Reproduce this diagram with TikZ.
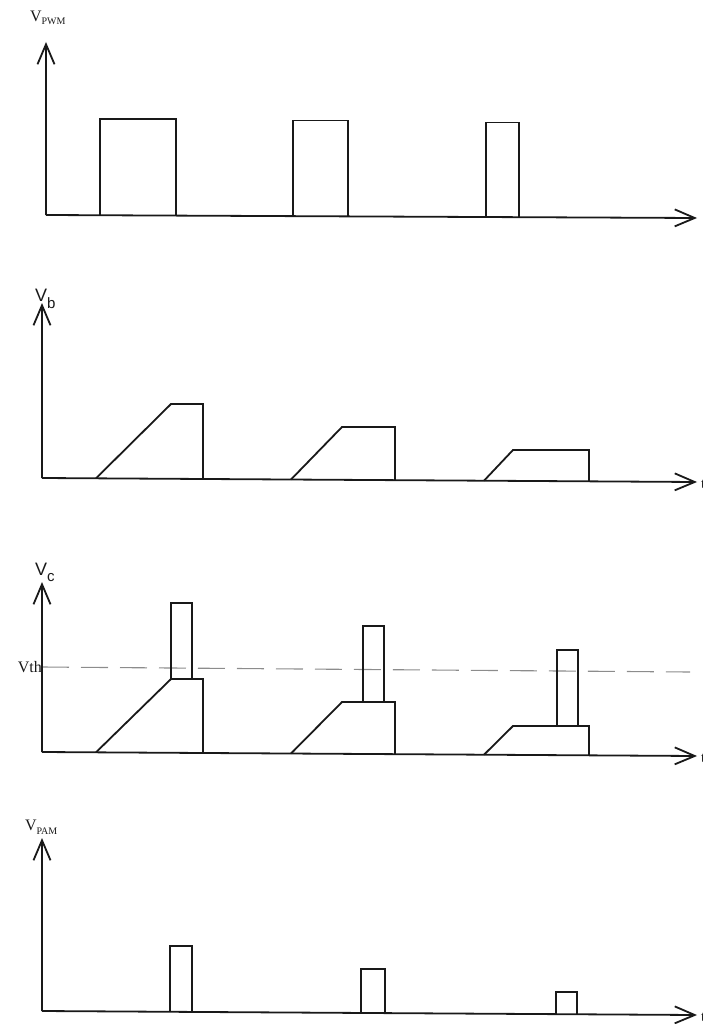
\documentclass[tikz,border=0pt]{standalone}
\usepackage{fontspec}
\setmainfont{Liberation Serif}
\newfontfamily\lsans{Liberation Sans}
\usetikzlibrary{arrows.meta}
\tikzset{
  axisline/.style={line width=1.8pt, black!90, -{Straight Barb[length=20pt,width=17pt,line width=1.8pt]}},
  wave/.style={line width=1.8pt, black!90, line join=miter},
  thresh/.style={line width=1.1pt, black!45, dash pattern=on 27pt off 12pt},
  lbl/.style={inner sep=0pt, outer sep=0pt, anchor=base west, text=black!90}
}
\begin{document}
\begin{tikzpicture}[x=1pt,y=-1pt]
\useasboundingbox (0,0) rectangle (703,1024);

% ---------- panel 1 : V_PWM ----------
\coordinate (o1) at (46,215);
\coordinate (y1) at (46,42);
\coordinate (x1) at (697,218);
\draw[axisline] (o1) -- (y1);
\draw[axisline] (o1) -- (x1);
\node[lbl] (l1) at (30,22) {\fontsize{16}{16}\selectfont V\raisebox{-3pt}{\fontsize{10}{10}\selectfont PWM}};
\draw[wave] (100,215.3) -- (100,119) -- (176,119) -- (176,215.6);
\draw[wave] (293,216.1) -- (293,120.5) -- (348,120.5) -- (348,216.4);
\draw[wave] (486,217) -- (486,122.5) -- (519,122.5) -- (519,217.2);

% ---------- panel 2 : V_b ----------
\coordinate (o2) at (42,478);
\coordinate (y2) at (42,303);
\coordinate (x2) at (697,482);
\draw[axisline] (o2) -- (y2);
\draw[axisline] (o2) -- (x2);
\node[lbl] (l2) at (35,301) {\lsans\fontsize{18}{18}\selectfont V\raisebox{-7pt}{\fontsize{15}{15}\selectfont b}};
\node[lbl] (t2) at (701,488) {\fontsize{15}{15}\selectfont t};
\draw[wave] (96,478.3) -- (171,404) -- (203,404) -- (203,479);
\draw[wave] (291,479.5) -- (342,427) -- (395,427) -- (395,480.2);
\draw[wave] (484,480.7) -- (513,450) -- (589,450) -- (589,481.3);

% ---------- panel 3 : V_c ----------
\coordinate (o3) at (42,752);
\coordinate (y3) at (42,582);
\coordinate (x3) at (697,756);
\coordinate (th0) at (42,667);
\coordinate (th1) at (690,672);
\draw[thresh] (th0) -- (th1);
\draw[axisline] (o3) -- (y3);
\draw[axisline] (o3) -- (x3);
\node[lbl] (l3) at (35,575) {\lsans\fontsize{18}{18}\selectfont V\raisebox{-6pt}{\fontsize{15}{15}\selectfont c}};
\node[inner sep=0pt, anchor=base east, text=black!90] (vth) at (42,672) {\fontsize{16}{16}\selectfont Vth};
\node[lbl] (t3) at (701,762) {\fontsize{15}{15}\selectfont t};
\draw[wave] (96,752.3) -- (171,679) -- (203,679) -- (203,753);
\draw[wave] (171,679) -- (171,603) -- (192,603) -- (192,679);
\draw[wave] (291,753.5) -- (342,702) -- (395,702) -- (395,754.2);
\draw[wave] (363,702) -- (363,626) -- (384,626) -- (384,702);
\draw[wave] (484,754.7) -- (513,726) -- (589,726) -- (589,755.3);
\draw[wave] (557,726) -- (557,650) -- (578,650) -- (578,726);

% ---------- panel 4 : V_PAM ----------
\coordinate (o4) at (42,1011);
\coordinate (y4) at (42,838);
\coordinate (x4) at (697,1015);
\draw[axisline] (o4) -- (y4);
\draw[axisline] (o4) -- (x4);
\node[lbl] (l4) at (25,830) {\fontsize{16}{16}\selectfont V\raisebox{-4pt}{\fontsize{10}{10}\selectfont PAM}};
\node[lbl] (t4) at (701,1021) {\fontsize{15}{15}\selectfont t};
\draw[wave] (170,1011.8) -- (170,946) -- (192,946) -- (192,1012.1);
\draw[wave] (361,1013) -- (361,969) -- (385,969) -- (385,1013.2);
\draw[wave] (556,1014.1) -- (556,992) -- (577,992) -- (577,1014.2);
\end{tikzpicture}
\end{document}
